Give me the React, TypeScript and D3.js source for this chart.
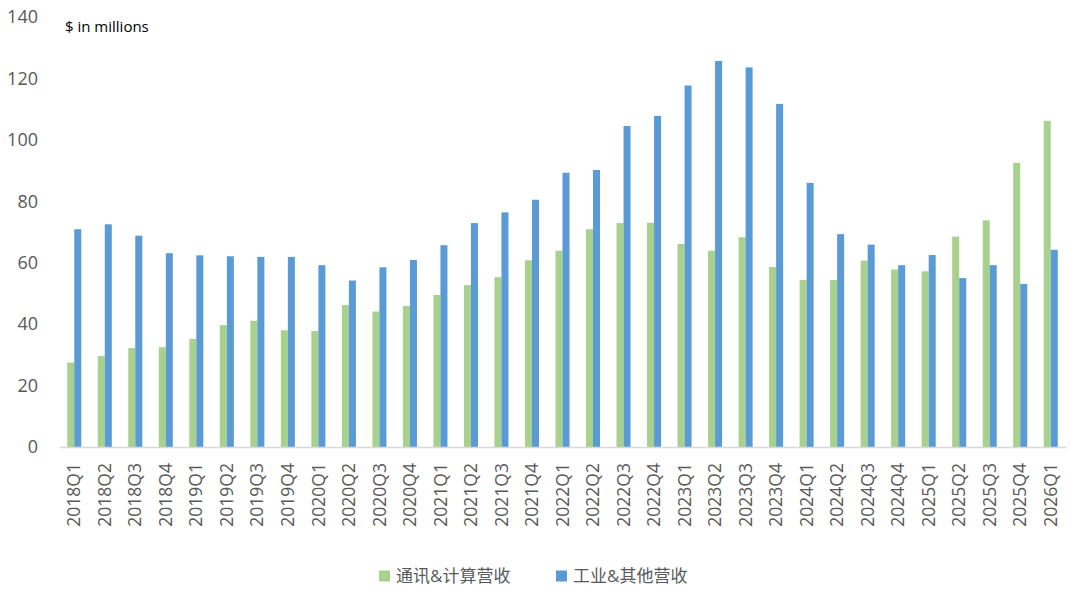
import { useRef, useEffect } from 'react';
import * as d3 from 'd3';

const quarters = [
  '2018Q1', '2018Q2', '2018Q3', '2018Q4', '2019Q1', '2019Q2', '2019Q3', '2019Q4',
  '2020Q1', '2020Q2', '2020Q3', '2020Q4', '2021Q1', '2021Q2', '2021Q3', '2021Q4',
  '2022Q1', '2022Q2', '2022Q3', '2022Q4', '2023Q1', '2023Q2', '2023Q3', '2023Q4',
  '2024Q1', '2024Q2', '2024Q3', '2024Q4', '2025Q1', '2025Q2', '2025Q3', '2025Q4',
  '2026Q1',
];

const commsCompute = [
  27.5, 29.6, 32.2, 32.5, 35.2, 39.7, 41.1, 38.0,
  37.8, 46.2, 44.1, 45.9, 49.5, 52.7, 55.3, 60.8,
  63.9, 70.9, 72.9, 73.0, 66.1, 63.9, 68.3, 58.6,
  54.4, 54.4, 60.7, 57.8, 57.2, 68.5, 73.8, 92.5,
  106.2,
];

const industrialOther = [
  70.9, 72.5, 68.8, 63.1, 62.4, 62.1, 61.9, 61.9,
  59.2, 54.2, 58.5, 60.9, 65.7, 72.9, 76.4, 80.5,
  89.3, 90.2, 104.5, 107.8, 117.7, 125.7, 123.6, 111.7,
  86.0, 69.3, 65.9, 59.2, 62.5, 55.0, 59.2, 53.1,
  64.2,
];

const seriesNames = ['通讯&计算营收', '工业&其他营收'];
const colors = ['#A9D18E', '#5B9BD5'];
const yTicks = [0, 20, 40, 60, 80, 100, 120, 140];

const W = 1080;
const H = 600;
const margin = { top: 17, right: 14, bottom: 153, left: 59 };
const innerW = W - margin.left - margin.right;
const innerH = H - margin.top - margin.bottom;

const latin = '"Open Sans", "Noto Sans", sans-serif';
const cjk = '"Open Sans", "Noto Sans CJK SC", sans-serif';

const App = () => {
  const ref = useRef<SVGSVGElement | null>(null);

  useEffect(() => {
    if (!ref.current) return;
    const root = d3.select(ref.current);
    root.selectAll('*').remove();

    const svg = root.append('g').attr('transform', `translate(${margin.left}, ${margin.top})`);

    const x0 = d3.scaleBand().domain(quarters).range([0, innerW]).padding(0);
    const bw = x0.bandwidth();
    const x1 = d3.scaleBand().domain(['0', '1']).range([bw * 0.27, bw * 0.73]).padding(0);
    const y = d3.scaleLinear().domain([0, 140]).range([innerH, 0]);

    // y axis labels only
    const yAxis = svg.append('g')
      .call(d3.axisLeft(y).tickValues(yTicks).tickSize(0).tickPadding(21));
    yAxis.select('.domain').remove();
    yAxis.selectAll('text')
      .style('font-family', latin)
      .style('font-size', '18px')
      .attr('fill', '#595959');

    // bars
    const rows = quarters.map((q, i) => ({ q, vals: [commsCompute[i], industrialOther[i]] }));
    const groups = svg.selectAll('g.grp')
      .data(rows)
      .enter()
      .append('g')
      .attr('class', 'grp')
      .attr('transform', d => `translate(${x0(d.q)}, 0)`);

    groups.selectAll('rect')
      .data(d => d.vals.map((v, k) => ({ v, k })))
      .enter()
      .append('rect')
      .attr('x', d => x1(String(d.k)) as number)
      .attr('width', x1.bandwidth())
      .attr('y', d => y(d.v))
      .attr('height', d => innerH - y(d.v))
      .attr('fill', d => colors[d.k]);

    // x axis
    const xAxis = svg.append('g')
      .attr('transform', `translate(0, ${innerH})`)
      .call(d3.axisBottom(x0).tickSize(0).tickPadding(0));
    xAxis.select('.domain').attr('stroke', '#d9d9d9').attr('stroke-width', 1.5);
    xAxis.selectAll('text')
      .style('font-family', latin)
      .style('font-size', '17.5px')
      .attr('fill', '#595959')
      .attr('text-anchor', 'end')
      .attr('transform', 'rotate(-90)')
      .attr('x', -16)
      .attr('y', 0)
      .attr('dy', '0.35em');

    // unit label
    root.append('text')
      .attr('x', 65)
      .attr('y', 32)
      .style('font-family', latin)
      .style('font-size', '15px')
      .attr('fill', '#000')
      .text('$ in millions');

    // legend
    const legendX = [379, 556];
    seriesNames.forEach((name, i) => {
      const g = root.append('g').attr('transform', `translate(${legendX[i]}, 576)`);
      g.append('rect').attr('x', 0).attr('y', -5.5).attr('width', 11).attr('height', 11).attr('fill', colors[i]);
      g.append('text')
        .attr('x', 17)
        .attr('dy', '0.35em')
        .style('font-family', cjk)
        .style('font-size', '17px')
        .attr('fill', '#595959')
        .text(name);
    });
  }, []);

  return (
    <svg
      ref={ref}
      width={W}
      height={H}
      style={{ position: 'absolute', left: 0, top: 0, background: '#fff' }}
    ></svg>
  );
};

export default App;
